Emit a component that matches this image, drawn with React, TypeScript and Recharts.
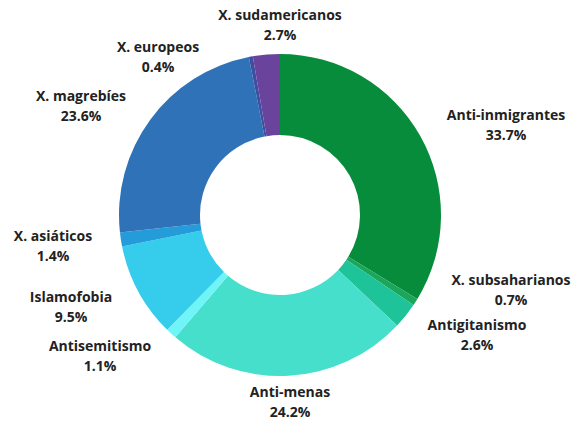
import { PieChart, Pie, Cell } from 'recharts';

const categories = [
  'Anti-inmigrantes',
  'X. subsaharianos',
  'Antigitanismo',
  'Anti-menas',
  'Antisemitismo',
  'Islamofobia',
  'X. asiáticos',
  'X. magrebíes',
  'X. europeos',
  'X. sudamericanos',
];

const percentages = [33.7, 0.7, 2.6, 24.2, 1.1, 9.5, 1.4, 23.6, 0.4, 2.7];

const colors = [
  '#078C3C',
  '#1BA65A',
  '#1EC39A',
  '#45DFCB',
  '#6FF5F7',
  '#35CDEB',
  '#249CD9',
  '#2F72B8',
  '#3D4FA0',
  '#6A449C',
];

// label centre, relative to the pie centre
const labelOffsets: Record<string, [number, number]> = {
  'Anti-inmigrantes': [226, -90],
  'X. subsaharianos': [231, 75],
  Antigitanismo: [197, 120],
  'Anti-menas': [10, 187],
  Antisemitismo: [-180, 141],
  Islamofobia: [-209, 92],
  'X. asiáticos': [-227, 31],
  'X. magrebíes': [-199, -109],
  'X. europeos': [-122, -158],
  'X. sudamericanos': [0, -190],
};

const data = categories.map((name, i) => ({ name, value: percentages[i] }));

const CX = 280;
const CY = 215;

function renderLabel(props: any) {
  const { cx, cy, name, value } = props;
  const [dx, dy] = labelOffsets[name] ?? [0, 0];
  const x = cx + dx;
  const y = cy + dy;
  return (
    <text
      x={x}
      y={y - 5}
      textAnchor="middle"
      fontFamily="'Open Sans', sans-serif"
      fontWeight={700}
      fontSize={14}
      fill="#222"
    >
      <tspan x={x} y={y - 5}>
        {name}
      </tspan>
      <tspan x={x} y={y + 15}>
        {value.toFixed(1)}%
      </tspan>
    </text>
  );
}

export default function App() {
  return (
    <div style={{ position: 'absolute', left: 0, top: 0, background: '#fff' }}>
      <PieChart width={574} height={423} margin={{ top: 0, right: 0, bottom: 0, left: 0 }}>
        <Pie
          data={data}
          dataKey="value"
          nameKey="name"
          cx={CX}
          cy={CY}
          innerRadius={80}
          outerRadius={161}
          startAngle={90}
          endAngle={-270}
          stroke="none"
          label={renderLabel}
          labelLine={false}
          isAnimationActive={false}
        >
          {data.map((d, i) => (
            <Cell key={d.name} fill={colors[i]} />
          ))}
        </Pie>
      </PieChart>
    </div>
  );
}
